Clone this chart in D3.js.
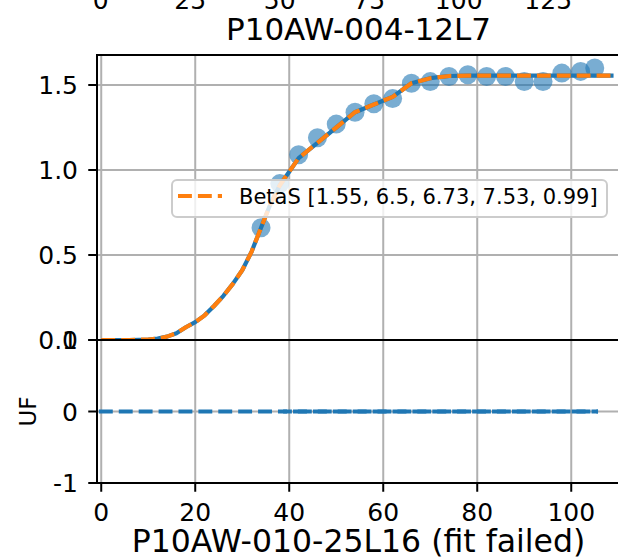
<!DOCTYPE html>
<html><head><meta charset="utf-8">
<script src="https://cdn.jsdelivr.net/npm/d3@7"></script>
<style>body{margin:0;background:#fff}svg{display:block}text{font-family:"DejaVu Sans",sans-serif;fill:#000}</style>
</head><body>
<script>
// ---- data ----
const topAxisTicks = [0, 25, 50, 75, 100, 125];
const titleUpper = "P10AW-004-12L7";
const titleLower = "P10AW-010-25L16 (fit failed)";
const xTicks = [0, 20, 40, 60, 80, 100];
const yTicksUpper = [0.0, 0.5, 1.0, 1.5];
const yTicksLower = [-1, 0, 1];
const obsX = [34, 38, 42, 46, 50, 54, 58, 62, 66, 70, 74, 78, 82, 86, 90, 94, 98, 102, 105];
const obsY = [0.66, 0.92, 1.09, 1.19, 1.27, 1.34, 1.39, 1.42, 1.51, 1.52, 1.55, 1.56, 1.55, 1.55, 1.52, 1.52, 1.57, 1.58, 1.60];
const fitX = [0, 6, 10, 12, 14, 16, 18, 20, 22, 24, 26, 28, 30, 32, 34, 36, 38, 40, 42, 46, 50, 54, 58, 62, 66, 70, 74, 78, 90, 100, 109];
const fitY = [0, 0, 0.003, 0.008, 0.02, 0.04, 0.075, 0.105, 0.145, 0.2, 0.26, 0.33, 0.41, 0.52, 0.66, 0.8, 0.91, 0.99, 1.07, 1.16, 1.25, 1.34, 1.385, 1.43, 1.51, 1.54, 1.553, 1.555, 1.555, 1.555, 1.555];
const legendLabel = "BetaS [1.55, 6.5, 6.73, 7.53, 0.99]";
const ufX = [-0.5, 105.7];
const ufY = [0, 0];
const ufX2 = [38.7, 105.7];
const ufY2 = [0, 0];
const yLabelLower = "UF";

// ---- layout ----
const W = 618, H = 559;
const left = 97, right = 622;
const upTop = 55, upBot = 340, loTop = 340, loBot = 483;
const blue = "#1f77b4", orange = "#ff7f0e", grid = "#b0b0b0";
const lw = 4.2;

const svg = d3.select("body").append("svg").attr("width", W).attr("height", H);
svg.append("rect").attr("width", W).attr("height", H).attr("fill", "#fff");

const x = d3.scaleLinear().domain([-0.9, 110.8]).range([left, right]);
const yU = d3.scaleLinear().domain([0, 1.5]).range([upBot, upBot - 255]);
const yL = d3.scaleLinear().domain([-1, 1]).range([loBot, loTop]);
const xTop = d3.scaleLinear().domain([0, 25]).range([100.7, 190.2]);

// top clipped tick labels from axis above
svg.append("g").selectAll("text").data(topAxisTicks).join("text")
  .attr("x", d => xTop(d)).attr("y", 9).attr("text-anchor", "middle")
  .attr("font-size", 25).text(d => d);

svg.append("text").attr("x", (left + right) / 2 - 1).attr("y", 40).attr("text-anchor", "middle")
  .attr("font-size", 31).text(titleUpper);

// ---- upper axes ----
svg.append("defs").append("clipPath").attr("id", "cu").append("rect")
  .attr("x", left).attr("y", upTop).attr("width", right - left).attr("height", upBot - upTop);
const gu = svg.append("g");
const pu = gu.append("g").attr("clip-path", "url(#cu)");
pu.selectAll("line.vg").data(xTicks).join("line")
  .attr("x1", d => x(d)).attr("x2", d => x(d)).attr("y1", upTop).attr("y2", upBot)
  .attr("stroke", grid).attr("stroke-width", 2);
pu.selectAll("line.hg").data(yTicksUpper).join("line")
  .attr("x1", left).attr("x2", right).attr("y1", d => yU(d)).attr("y2", d => yU(d))
  .attr("stroke", grid).attr("stroke-width", 2);
pu.selectAll("circle").data(obsX.map((v, i) => [v, obsY[i]])).join("circle")
  .attr("cx", d => x(d[0])).attr("cy", d => yU(d[1])).attr("r", 9.5)
  .attr("fill", blue).attr("fill-opacity", 0.6);
const fitPts = fitX.map((v, i) => [v, fitY[i]]);
const lineU = d3.line().x(d => x(d[0])).y(d => yU(d[1]));
pu.append("path").attr("d", lineU(fitPts)).attr("fill", "none")
  .attr("stroke", blue).attr("stroke-width", lw).attr("stroke-linejoin", "round");
pu.append("path").attr("d", lineU(fitPts)).attr("fill", "none")
  .attr("stroke", orange).attr("stroke-width", lw).attr("stroke-dasharray", "13.9 6");

// spines upper
gu.append("line").attr("x1", left).attr("x2", left).attr("y1", upTop).attr("y2", upBot).attr("stroke", "#000").attr("stroke-width", 2);
gu.append("line").attr("x1", left - 1).attr("x2", right).attr("y1", upTop).attr("y2", upTop).attr("stroke", "#000").attr("stroke-width", 2);
// y ticks upper
gu.selectAll("line.yt").data(yTicksUpper).join("line")
  .attr("x1", left - 8.75).attr("x2", left).attr("y1", d => yU(d)).attr("y2", d => yU(d))
  .attr("stroke", "#000").attr("stroke-width", 2);
gu.selectAll("text.yl").data(yTicksUpper).join("text")
  .attr("x", left - 19).attr("y", d => yU(d) + 9.1).attr("text-anchor", "end")
  .attr("font-size", 25).text(d => d3.format(".1f")(d));

// legend
const lg = svg.append("g");
lg.append("rect").attr("x", 172).attr("y", 180).attr("width", 435).attr("height", 37).attr("rx", 5)
  .attr("fill", "#fff").attr("fill-opacity", 0.8).attr("stroke", "#cccccc").attr("stroke-width", 2);
lg.append("line").attr("x1", 178).attr("x2", 222).attr("y1", 196).attr("y2", 196)
  .attr("stroke", orange).attr("stroke-width", lw).attr("stroke-dasharray", "13.9 6");
lg.append("text").attr("x", 239).attr("y", 203.5).attr("font-size", 21).text(legendLabel);

// ---- lower axes ----
const gl = svg.append("g");
gl.append("rect").attr("x", left).attr("y", loTop).attr("width", right - left).attr("height", loBot - loTop).attr("fill", "#fff");
gl.selectAll("line.vg").data(xTicks).join("line")
  .attr("x1", d => x(d)).attr("x2", d => x(d)).attr("y1", loTop).attr("y2", loBot)
  .attr("stroke", grid).attr("stroke-width", 2);
gl.selectAll("line.hg").data(yTicksLower).join("line")
  .attr("x1", left).attr("x2", right).attr("y1", d => yL(d)).attr("y2", d => yL(d))
  .attr("stroke", grid).attr("stroke-width", 2);
const lineL = d3.line().x(d => x(d[0])).y(d => yL(d[1]));
gl.append("path").attr("d", lineL(ufX.map((v, i) => [v, ufY[i]]))).attr("fill", "none")
  .attr("stroke", blue).attr("stroke-width", 4).attr("stroke-dasharray", "13.9 6");
gl.append("path").attr("d", lineL(ufX2.map((v, i) => [v, ufY2[i]]))).attr("fill", "none")
  .attr("stroke", blue).attr("stroke-width", 4).attr("stroke-dasharray", "13.9 6").attr("stroke-dashoffset", 10);
// spines lower
gl.append("line").attr("x1", left - 1).attr("x2", right).attr("y1", loTop).attr("y2", loTop).attr("stroke", "#000").attr("stroke-width", 2);
gl.append("line").attr("x1", left - 1).attr("x2", right).attr("y1", loBot).attr("y2", loBot).attr("stroke", "#000").attr("stroke-width", 2);
gl.append("line").attr("x1", left).attr("x2", left).attr("y1", loTop).attr("y2", loBot).attr("stroke", "#000").attr("stroke-width", 2);
gl.selectAll("line.yt").data(yTicksLower).join("line")
  .attr("x1", left - 8.75).attr("x2", left).attr("y1", d => yL(d)).attr("y2", d => yL(d))
  .attr("stroke", "#000").attr("stroke-width", 2);
gl.selectAll("text.yl").data(yTicksLower).join("text")
  .attr("x", left - 19).attr("y", d => yL(d) + 9.1).attr("text-anchor", "end")
  .attr("font-size", 25).text(d => d);
gl.selectAll("line.xt").data(xTicks).join("line")
  .attr("x1", d => x(d)).attr("x2", d => x(d)).attr("y1", loBot).attr("y2", loBot + 8.75)
  .attr("stroke", "#000").attr("stroke-width", 2);
gl.selectAll("text.xl").data(xTicks).join("text")
  .attr("x", d => x(d)).attr("y", 521).attr("text-anchor", "middle")
  .attr("font-size", 25).text(d => d);
gl.append("text").attr("transform", `translate(36,${yL(0)}) rotate(-90)`).attr("text-anchor", "middle")
  .attr("font-size", 23).text(yLabelLower);

svg.append("text").attr("x", (left + right) / 2 - 1).attr("y", 552).attr("text-anchor", "middle")
  .attr("font-size", 31.5).text(titleLower);
</script>
</body></html>
